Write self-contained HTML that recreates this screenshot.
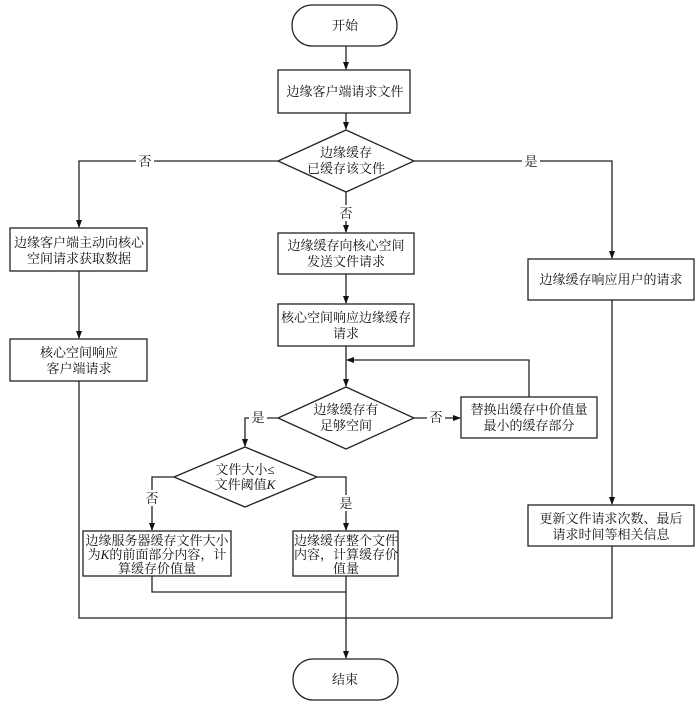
<!DOCTYPE html>
<html><head><meta charset="utf-8"><style>
body{margin:0;background:#fff}
svg{display:block}
text{font-family:"Liberation Serif","Noto Serif CJK SC",serif;font-size:13px;fill:#111;text-anchor:middle}
</style></head><body>
<svg width="700" height="710" viewBox="0 0 700 710" xmlns="http://www.w3.org/2000/svg">
<defs><marker id="a" markerWidth="8" markerHeight="8" refX="7" refY="4" orient="auto" markerUnits="userSpaceOnUse"><path d="M0,1 L8,4 L0,7 z" fill="#111"/></marker></defs>
<g stroke="#222" stroke-width="1.3" fill="none">
<rect x="292" y="5" width="105" height="41" rx="20"/>
<rect x="278" y="70" width="132" height="43"/>
<polygon points="346,130 414,161 346,192 278,161"/>
<rect x="10" y="228" width="137" height="43"/>
<rect x="10" y="339" width="137" height="42"/>
<rect x="278" y="233" width="136" height="41"/>
<rect x="278" y="304" width="136" height="42"/>
<rect x="528" y="259" width="166" height="41"/>
<polygon points="346,387 414,418 346,449 278,418"/>
<rect x="461" y="397" width="136" height="41"/>
<polygon points="245,447 317,477 245,507 174,477"/>
<rect x="83" y="531" width="148" height="45"/>
<rect x="293" y="531" width="105" height="45"/>
<rect x="528" y="505" width="166" height="41"/>
<rect x="293" y="659" width="105" height="41" rx="20"/>
<path d="M346,46 V69" marker-end="url(#a)"/>
<path d="M346,113 V129" marker-end="url(#a)"/>
<path d="M278,161 H79 V227" marker-end="url(#a)"/>
<path d="M414,161 H612 V258" marker-end="url(#a)"/>
<path d="M346,192 V232" marker-end="url(#a)"/>
<path d="M79,271 V338" marker-end="url(#a)"/>
<path d="M346,274 V303" marker-end="url(#a)"/>
<path d="M346,346 V386" marker-end="url(#a)"/>
<path d="M529,397 V360 H347" marker-end="url(#a)"/>
<path d="M414,418 H460" marker-end="url(#a)"/>
<path d="M278,418 H245 V446" marker-end="url(#a)"/>
<path d="M174,477 H152 V530" marker-end="url(#a)"/>
<path d="M317,477 H346 V530" marker-end="url(#a)"/>
<path d="M612,300 V504" marker-end="url(#a)"/>
<path d="M152,576 V592 H346"/>
<path d="M79,381 V618 H612 V546"/>
<path d="M346,576 V658" marker-end="url(#a)"/>
</g>
<g>
<text x="345" y="30">开始</text>
<text x="345" y="96">边缘客户端请求文件</text>
<text x="346" y="157">边缘缓存</text>
<text x="346" y="173">已缓存该文件</text>
<rect x="136" y="153" width="18" height="16" fill="#fff"/><text x="145" y="166">否</text>
<rect x="522" y="153" width="18" height="16" fill="#fff"/><text x="531" y="166">是</text>
<rect x="337" y="205" width="18" height="16" fill="#fff"/><text x="346" y="218">否</text>
<text x="79" y="247">边缘客户端主动向核心</text>
<text x="79" y="263">空间请求获取数据</text>
<text x="79" y="357">核心空间响应</text>
<text x="79" y="373">客户端请求</text>
<text x="346" y="250">边缘缓存向核心空间</text>
<text x="346" y="266">发送文件请求</text>
<text x="346" y="322">核心空间响应边缘缓存</text>
<text x="346" y="338">请求</text>
<text x="611" y="284">边缘缓存响应用户的请求</text>
<text x="346" y="414">边缘缓存有</text>
<text x="346" y="430">足够空间</text>
<rect x="427" y="410" width="18" height="16" fill="#fff"/><text x="436" y="422">否</text>
<rect x="249" y="410" width="18" height="16" fill="#fff"/><text x="258" y="422">是</text>
<text x="529" y="414">替换出缓存中价值量</text>
<text x="529" y="430">最小的缓存部分</text>
<text x="245" y="474">文件大小≤</text>
<text x="245" y="489">文件阈值<tspan font-style="italic">K</tspan></text>
<rect x="143" y="490" width="18" height="16" fill="#fff"/><text x="152" y="503">否</text>
<rect x="337" y="495" width="18" height="16" fill="#fff"/><text x="346" y="508">是</text>
<text x="157" y="545">边缘服务器缓存文件大小</text>
<text x="157" y="559">为<tspan font-style="italic">K</tspan>的前面部分内容，计</text>
<text x="157" y="573">算缓存价值量</text>
<text x="346" y="545">边缘缓存整个文件</text>
<text x="346" y="559">内容，计算缓存价</text>
<text x="346" y="573">值量</text>
<text x="611" y="523">更新文件请求次数、最后</text>
<text x="611" y="539">请求时间等相关信息</text>
<text x="345" y="684">结束</text>
</g>
</svg>
</body></html>
